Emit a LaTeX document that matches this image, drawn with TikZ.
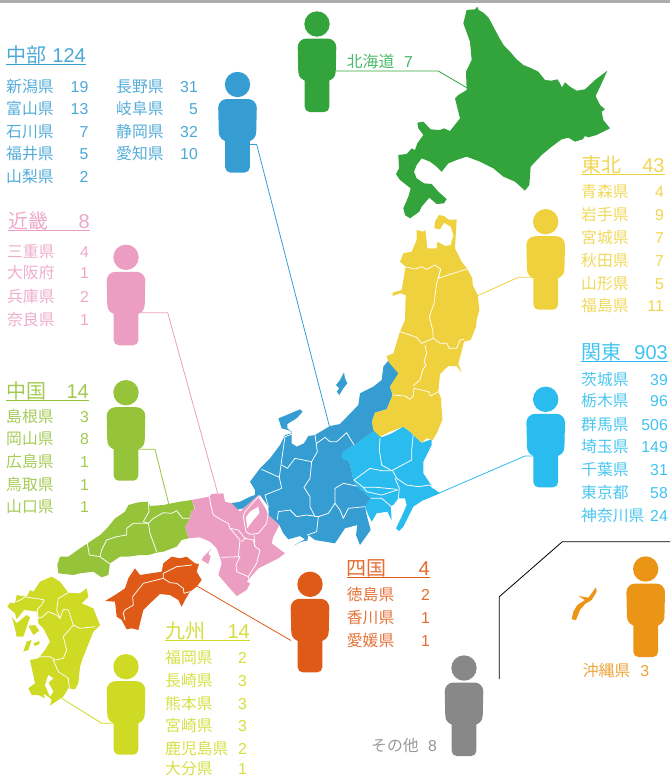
\documentclass[tikz,border=0pt]{standalone}
\usepackage{fontspec}
\setmainfont{Noto Sans CJK JP}
\newfontfamily\numfont{Liberation Sans}
\definecolor{cHok}{HTML}{33A33C}
\definecolor{cHokT}{HTML}{2BAE50}
\definecolor{cChu}{HTML}{369DD2}
\definecolor{cToh}{HTML}{EFD13E}
\definecolor{cKan}{HTML}{2BBCEF}
\definecolor{cKin}{HTML}{EB9EC2}
\definecolor{cGok}{HTML}{95C33A}
\definecolor{cShi}{HTML}{E05A17}
\definecolor{cKyu}{HTML}{CEDA24}
\definecolor{cOki}{HTML}{EB9516}
\definecolor{cOth}{HTML}{888888}
\tikzset{
  lbl/.style={inner sep=0pt,font=\fontsize{15.8}{16}\selectfont,text height=14pt,text depth=2pt},
  hdl/.style={inner sep=0pt,font=\fontsize{20}{20}\selectfont,text height=18pt,text depth=2.8pt},
  bord/.style={draw=white,line width=0.75pt,line join=round,line cap=round},
  lead/.style={line width=0.8pt},
  zm/.style 2 args={shift={(#1,#2)},scale=0.33333}
}
\newcommand{\prefrow}[7]{%
  \node[lbl,anchor=west,text=#1!85!white] (#2n) at (#3,#5) {#6};
  \node[lbl,anchor=east,text=#1!90!white] (#2v) at (#4,#5) {\numfont #7};}
\newcommand{\regionhead}[7]{%
  \node[hdl,anchor=west,text=#1!88!white] (#2n) at (#3,#5) {#6};
  \node[hdl,anchor=east,text=#1!90!white] (#2v) at (#4,#5) {\numfont #7};
  \draw[#1,line width=0.9pt] (#3,#5+9.6) -- (#4,#5+9.6);}
\newcommand{\person}[4]{%
  \coordinate (#1) at (#3,#4);
  \fill[#2] (#1) circle[radius=12.7pt];
  \fill[#2,rounded corners=9pt] ($(#1)+(-19.5,14.5)$) -- ($(#1)+(19.5,14.5)$) -- ($(#1)+(18.5,57)$) -- ($(#1)+(-18.5,57)$) -- cycle;
  \fill[#2,rounded corners=5pt] ($(#1)+(-12.3,40)$) -- ($(#1)+(12.3,40)$) -- ($(#1)+(12.3,88)$) -- ($(#1)+(-12.3,88)$) -- cycle;}
\usetikzlibrary{calc}
\begin{document}
\begin{tikzpicture}[x=1pt,y=-1pt,line join=round]
\useasboundingbox (0,0) rectangle (670,777);
\fill[gray!65] (0,0) rectangle (670,3);

% --- Kanto
\begin{scope}[zm={200}{400}]
\fill[cKan] (522,92)--(545,112)--(575,100)--(610,80)--(630,95)--(665,128)--(695,118)--(695,135)--(670,185)--(670,220)--(700,265)--(720,280)--(670,300)--(640,320)--(610,380)--(597,393)--(588,385)--(605,350)--(620,315)--(615,295)--(595,295)--(580,315)--(572,318)--(575,360)--(562,335)--(530,340)--(515,365)--(505,345)--(495,320)--(512,295)--(495,280)--(470,258)--(460,240)--(448,185)--(425,175)--(430,155)--(462,135)--(490,115)--cycle;
\draw[bord] (540,115)--(538,150)--(545,195)--(575,212);
\draw[bord] (640,100)--(635,150)--(635,180)--(575,212);
\draw[bord] (462,240)--(510,205)--(545,212)--(575,212);
\draw[bord] (462,240)--(490,262)--(530,262)--(592,268);
\draw[bord] (578,212)--(590,235)--(620,255)--(655,260)--(690,255)--(700,265);
\draw[bord] (585,235)--(598,265)--(595,295);
\draw[bord] (490,262)--(500,275)--(545,285)--(592,270);
\draw[bord] (512,295)--(545,295)--(572,318);
% --- Chubu
\fill[cChu] (565,-118)--(598,-82)--(570,-40)--(578,-15)--(560,28)--(525,38)--(516,65)--(522,92)--(490,115)--(462,135)--(430,155)--(425,175)--(448,185)--(460,240)--(470,258)--(495,280)--(512,295)--(495,320)--(500,345)--(512,390)--(480,435)--(468,405)--(472,375)--(435,385)--(405,430)--(345,420)--(325,405)--(322,422)--(305,425)--(280,437)--(315,418)--(300,408)--(265,418)--(250,400)--(238,375)--(205,345)--(205,320)--(180,285)--(165,295)--(130,325)--(108,330)--(92,310)--(120,305)--(150,290)--(165,285)--(165,270)--(150,245)--(180,205)--(210,175)--(240,135)--(255,105)--(275,100)--(270,92)--(245,85)--(235,55)--(260,45)--(300,28)--(308,35)--(290,55)--(262,72)--(262,85)--(275,95)--(275,130)--(290,140)--(312,130)--(325,108)--(345,105)--(390,78)--(420,72)--(475,15)--(480,-20)--(520,-40)--(545,-60)--(550,-100)--cycle;
\draw[bord] (275,103)--(255,110)--(245,180)--(238,232)--(185,208);
\draw[bord] (245,195)--(262,205)--(285,175)--(335,185)--(352,155)--(348,125)--(345,105);
\draw[bord] (350,130)--(375,112)--(390,125)--(410,125)--(440,98)--(450,115)--(462,135);
\draw[bord] (335,185)--(330,235)--(312,262)--(330,290)--(330,320)--(345,350);
\draw[bord] (232,358)--(235,335)--(270,330)--(290,350)--(320,345)--(355,350)--(385,340)--(405,310)--(405,265)--(430,250)--(470,258);
\draw[bord] (405,310)--(420,330)--(430,355)--(445,325)--(495,320);
\draw[bord] (355,350)--(350,395)--(322,405);
\draw[bord] (195,285)--(245,265)--(238,232);
\draw[bord] (195,285)--(205,320);
\end{scope}
% --- Sado
\begin{scope}[zm={240}{220}]
\fill[cChu] (312,457)--(315,475)--(322,490)--(310,505)--(298,525)--(290,515)--(298,505)--(288,495)--(300,480)--cycle;
% --- Tohoku
\fill[cToh] (530,30)--(548,35)--(556,30)--(562,85)--(590,85)--(592,65)--(615,78)--(632,75)--(640,45)--(632,20)--(612,8)--(600,28)--(583,25)--(585,5)--(597,-15)--(612,-12)--(628,0)--(650,-2)--(647,50)--(645,85)--(665,125)--(682,147)--(697,175)--(698,195)--(713,225)--(718,270)--(710,300)--(708,320)--(692,360)--(672,365)--(662,405)--(655,430)--(665,458)--(650,438)--(625,438)--(600,462)--(595,515)--(603,535)--(607,600)--(590,640)--(578,660)--(560,655)--(545,668)--(510,635)--(490,620)--(450,635)--(420,650)--(400,630)--(396,605)--(405,578)--(440,568)--(458,525)--(450,500)--(475,460)--(445,425)--(440,408)--(460,400)--(480,335)--(495,300)--(497,225)--(480,220)--(458,228)--(458,218)--(485,210)--(497,140)--(480,125)--(490,100)--(515,95)--(530,60)--cycle;
\draw[bord] (495,140)--(525,147)--(545,140)--(560,148)--(585,135)--(602,148)--(595,175)--(640,160)--(682,147);
\draw[bord] (602,148)--(590,190)--(582,250)--(568,290)--(578,330)--(580,355);
\draw[bord] (480,335)--(530,352)--(545,370)--(580,355)--(600,370)--(620,370)--(628,385)--(650,385)--(660,360)--(672,358);
\draw[bord] (555,375)--(560,400)--(552,425)--(558,435)--(548,450)--(540,480)--(520,497);
\draw[bord] (458,525)--(495,528)--(510,538)--(520,528)--(522,505)--(545,510)--(565,515)--(572,528)--(595,515);
\end{scope}
% --- Kinki
\begin{scope}[zm={0}{440}]
\fill[cKin] (575,180)--(600,175)--(628,170)--(635,162)--(670,160)--(675,185)--(695,190)--(720,215)--(775,165)--(790,190)--(805,225)--(838,255)--(820,290)--(815,310)--(855,340)--(835,355)--(775,385)--(740,425)--(750,430)--(740,450)--(710,468)--(685,440)--(655,405)--(665,370)--(660,352)--(650,325)--(630,305)--(600,292)--(565,295)--(555,260)--(570,235)--(575,210)--(585,205)--cycle;
\fill[cKin] (635,325)--(610,350)--(605,360)--(625,372)--(632,350)--(625,340)--cycle;
\fill[white] (775,200)--(750,215)--(738,232)--(742,265)--(760,240)--(778,220)--cycle;
\draw[bord] (628,170)--(632,195)--(640,225)--(665,240)--(685,250)--(690,265)--(715,270)--(735,295);
\draw[bord] (735,215)--(775,170)--(805,215)--(800,250)--(775,280)--(750,283)--(738,275)--(730,230)--cycle;
\draw[bord] (762,285)--(765,320)--(780,330)--(770,370)--(745,410)--(710,395)--(708,375)--(720,350)--(665,352);
\draw[bord] (690,265)--(720,300)--(715,350);
\draw[bord] (725,305)--(735,295)--(760,300)--(765,320);
\draw[bord] (745,410)--(750,430);
% --- Chugoku
\fill[cGok] (575,180)--(583,205)--(573,215)--(570,235)--(555,260)--(565,295)--(545,300)--(530,320)--(490,335)--(470,338)--(445,345)--(420,345)--(385,350)--(360,350)--(330,370)--(325,405)--(305,412)--(280,395)--(240,400)--(220,405)--(175,400)--(172,375)--(180,350)--(205,350)--(240,325)--(270,305)--(300,285)--(325,260)--(345,235)--(375,215)--(385,195)--(415,187)--(445,185)--(450,198)--(490,195)--(540,185)--cycle;
\draw[bord] (262,310)--(268,345)--(300,350)--(305,330)--(320,300)--(350,290)--(380,285)--(380,265)--(400,250)--(445,250);
\draw[bord] (445,185)--(447,215)--(430,245)--(445,250)--(460,235)--(490,218)--(515,220)--(530,212)--(548,235)--(570,235);
\draw[bord] (445,250)--(450,280)--(470,335);
\draw[bord] (300,350)--(330,372);
% --- Shikoku
\fill[cShi] (485,395)--(490,370)--(515,350)--(540,355)--(560,350)--(585,370)--(597,372)--(590,395)--(605,420)--(590,440)--(570,455)--(555,480)--(545,500)--(535,480)--(510,465)--(480,462)--(450,490)--(430,510)--(420,550)--(415,570)--(395,565)--(380,568)--(365,540)--(350,530)--(345,485)--(315,483)--(345,465)--(375,445)--(385,415)--(405,385)--(420,405)--cycle;
\draw[bord] (375,540)--(370,520)--(375,510)--(400,495)--(398,470)--(430,430)--(490,415)--(510,428)--(530,430)--(550,445)--(552,460)--(570,455);
\draw[bord] (490,415)--(490,400)--(530,380)--(575,375);
\end{scope}
% --- Kyushu
\begin{scope}[zm={0}{560}]
\fill[cKyu] (120,65)--(155,50)--(180,65)--(205,98)--(240,100)--(260,85)--(265,110)--(245,130)--(280,145)--(290,170)--(300,195)--(280,215)--(250,290)--(240,320)--(235,370)--(225,388)--(205,385)--(190,410)--(150,437)--(155,418)--(130,400)--(135,415)--(115,405)--(95,405)--(85,385)--(105,370)--(90,300)--(115,295)--(135,270)--(150,245)--(140,225)--(130,205)--(115,190)--(112,155)--(90,152)--(72,150)--(50,178)--(45,160)--(22,140)--(30,128)--(45,130)--(50,105)--(80,110)--(90,90)--(100,95)--cycle;
\fill[cKyu] (35,170)--(50,190)--(80,165)--(90,172)--(70,230)--(50,230)--(45,205)--cycle;
\fill[cKyu] (70,275)--(80,245)--(95,240)--(85,270)--cycle;
\fill[cKyu] (100,250)--(118,243)--(118,252)--(105,258)--cycle;
\fill[cKyu] (85,197)--(105,195)--(118,212)--(100,225)--cycle;
\fill[white] (145,345)--(160,355)--(145,368)--(160,395)--(150,410)--(135,375)--cycle;
\draw[bord] (50,125)--(65,118)--(75,110)--(100,115)--(110,115)--(133,120)--(125,135)--(112,148)--(115,175)--(125,172)--(145,155)--(170,165)--(180,175);
\draw[bord] (205,98)--(175,115)--(170,150)--(180,175)--(190,148)--(205,150)--(220,195)--(190,230)--(200,270)--(190,295)--(165,300)--(150,290)--(115,290);
\draw[bord] (160,300)--(175,335)--(205,355)--(208,385);
\draw[bord] (220,195)--(240,205)--(285,200);
\end{scope}
% --- Hokkaido
\begin{scope}[zm={240}{0}]
\fill[cHok] (712,20)--(716,30)--(730,38)--(745,52)--(755,70)--(768,95)--(780,117)--(792,137)--(810,155)--(830,178)--(850,195)--(875,205)--(895,215)--(915,240)--(935,242)--(952,238)--(960,250)--(966,262)--(975,247)--(990,260)--(1010,272)--(1035,268)--(1065,240)--(1102,212)--(1085,250)--(1067,288)--(1080,315)--(1095,328)--(1085,335)--(1090,360)--(1110,385)--(1070,405)--(1045,412)--(1035,408)--(1028,418)--(1005,425)--(985,413)--(965,418)--(935,440)--(905,465)--(872,500)--(868,555)--(855,572)--(825,545)--(790,530)--(760,505)--(720,485)--(680,470)--(650,480)--(625,490)--(605,515)--(590,500)--(570,485)--(545,475)--(530,495)--(522,515)--(530,535)--(552,550)--(575,552)--(595,575)--(620,597)--(612,610)--(590,612)--(568,593)--(545,620)--(538,635)--(510,655)--(495,645)--(490,625)--(505,590)--(512,565)--(480,540)--(468,522)--(477,505)--(475,465)--(500,462)--(515,445)--(525,450)--(532,430)--(550,405)--(535,385)--(532,368)--(550,365)--(572,388)--(600,390)--(612,385)--(630,393)--(660,355)--(645,295)--(655,285)--(680,270)--(678,215)--(695,180)--(690,125)--(670,70)--(680,30)--(705,28)--cycle;
\end{scope}
% --- Okinawa
\begin{scope}[zm={490}{530}]
\fill[cOki] (318,172)--(320,185)--(305,210)--(285,222)--(270,240)--(258,270)--(245,268)--(250,245)--(262,225)--(285,210)--(265,198)--(295,203)--cycle;
\end{scope}

% --- people
\person{pHok}{cHok}{317}{24}
\person{pChu}{cChu}{237.5}{84.5}
\person{pToh}{cToh}{545.7}{221.7}
\person{pKan}{cKan}{545.7}{399.3}
\person{pKin}{cKin}{126}{257.3}
\person{pGok}{cGok}{126}{392.7}
\person{pShi}{cShi}{310}{584.3}
\person{pKyu}{cKyu}{126}{666.7}
\person{pOki}{cOki}{645.7}{569}
\person{pOth}{cOth}{464}{668}

% --- connector ends on the map
\coordinate (mHok) at (466.7,87.7);
\coordinate (mChu) at (329.3,426);
\coordinate (mToh) at (477,296);
\coordinate (mKan) at (423,500);
\coordinate (mKin) at (217.7,493.3);
\coordinate (mGok) at (169,505);
\coordinate (mShi) at (197,586);
\coordinate (mKyu) at (61.7,698.3);
\draw[lead,cHok] ($(pHok)+(19,47)$) -- (438.3,71) -- (mHok);
\draw[lead,cChu] ($(pChu)+(12,60)$) -- (256.7,144.5) -- (mChu);
\draw[lead,cToh] ($(pToh)+(-12,55.6)$) -- (518.3,277.3) -- (mToh);
\draw[lead,cKan] ($(pKan)+(-12,56.7)$) -- (525,456) -- (mKan);
\draw[lead,cKin] ($(pKin)+(12,55.4)$) -- (167.7,312.7) -- (mKin);
\draw[lead,cGok] ($(pGok)+(12,56.6)$) -- (155,449.3) -- (mGok);
\draw[lead,cShi] (mShi) -- ($(pShi)+(-19,56.2)$);
\draw[lead,cKyu] (mKyu) -- (101.7,723.3) -- ($(pKyu)+(-12,56.6)$);
\coordinate (fA) at (499.3,679);
\coordinate (fB) at (499.3,596.7);
\coordinate (fC) at (562.3,541.7);
\coordinate (fD) at (670,541.7);
\draw[black,line width=0.8pt] (fA) -- (fB) -- (fC) -- (fD);

% --- labels
\prefrow{cHokT}{lHok}{346.7}{413}{61.7}{北海道}{7}

\regionhead{cChu}{hChu}{6}{86}{55}{中部}{124}
\prefrow{cChu}{a1}{6}{88.5}{86}{新潟県}{19}
\prefrow{cChu}{a2}{6}{88.5}{108.5}{富山県}{13}
\prefrow{cChu}{a3}{6}{88.5}{131}{石川県}{7}
\prefrow{cChu}{a4}{6}{88.5}{153.5}{福井県}{5}
\prefrow{cChu}{a5}{6}{88.5}{176}{山梨県}{2}
\prefrow{cChu}{a6}{116}{198}{86}{長野県}{31}
\prefrow{cChu}{a7}{116}{198}{108.5}{岐阜県}{5}
\prefrow{cChu}{a8}{116}{198}{131}{静岡県}{32}
\prefrow{cChu}{a9}{116}{198}{153.5}{愛知県}{10}

\regionhead{cToh}{hToh}{581}{664.7}{165}{東北}{43}
\prefrow{cToh}{b1}{581}{664}{191.7}{青森県}{4}
\prefrow{cToh}{b2}{581}{664}{214.3}{岩手県}{9}
\prefrow{cToh}{b3}{581}{664}{237.3}{宮城県}{7}
\prefrow{cToh}{b4}{581}{664}{260}{秋田県}{7}
\prefrow{cToh}{b5}{581}{664}{283.3}{山形県}{5}
\prefrow{cToh}{b6}{581}{664}{305.7}{福島県}{11}

\regionhead{cKan}{hKan}{581}{668}{352.3}{関東}{903}
\prefrow{cKan}{c1}{581}{668}{379.3}{茨城県}{39}
\prefrow{cKan}{c2}{581}{668}{400.7}{栃木県}{96}
\prefrow{cKan}{c3}{581}{668}{424}{群馬県}{506}
\prefrow{cKan}{c4}{581}{668}{446.7}{埼玉県}{149}
\prefrow{cKan}{c5}{581}{668}{469.3}{千葉県}{31}
\prefrow{cKan}{c6}{581}{668}{492}{東京都}{58}
\prefrow{cKan}{c7}{581}{668}{515}{神奈川県}{24}

\regionhead{cKin}{hKin}{8}{90}{220.7}{近畿}{8}
\prefrow{cKin}{d1}{7}{89}{251}{三重県}{4}
\prefrow{cKin}{d2}{7}{89}{272.7}{大阪府}{1}
\prefrow{cKin}{d3}{7}{89}{296}{兵庫県}{2}
\prefrow{cKin}{d4}{7}{89}{319}{奈良県}{1}

\regionhead{cGok}{hGok}{6}{89}{390.7}{中国}{14}
\prefrow{cGok}{e1}{6}{89}{416}{島根県}{3}
\prefrow{cGok}{e2}{6}{89}{438.7}{岡山県}{8}
\prefrow{cGok}{e3}{6}{89}{461.7}{広島県}{1}
\prefrow{cGok}{e4}{6}{89}{484}{鳥取県}{1}
\prefrow{cGok}{e5}{6}{89}{506.7}{山口県}{1}

\regionhead{cShi}{hShi}{346.7}{430}{567.7}{四国}{4}
\prefrow{cShi}{f1}{346.7}{430}{594.5}{徳島県}{2}
\prefrow{cShi}{f2}{346.7}{430}{617}{香川県}{1}
\prefrow{cShi}{f3}{346.7}{430}{640}{愛媛県}{1}

\regionhead{cKyu}{hKyu}{165}{250}{630.7}{九州}{14}
\prefrow{cKyu}{g1}{165}{247}{657}{福岡県}{2}
\prefrow{cKyu}{g2}{165}{247}{680}{長崎県}{3}
\prefrow{cKyu}{g3}{165}{247}{703}{熊本県}{3}
\prefrow{cKyu}{g4}{165}{247}{725}{宮崎県}{3}
\prefrow{cKyu}{g5}{165}{247}{748}{鹿児島県}{2}
\prefrow{cKyu}{g6}{165}{247}{768.8}{大分県}{1}

\prefrow{cOki}{hOki}{582.7}{649.3}{670}{沖縄県}{3}
\prefrow{cOth}{hOth}{371}{437}{745}{その他}{8}
\end{tikzpicture}
\end{document}
